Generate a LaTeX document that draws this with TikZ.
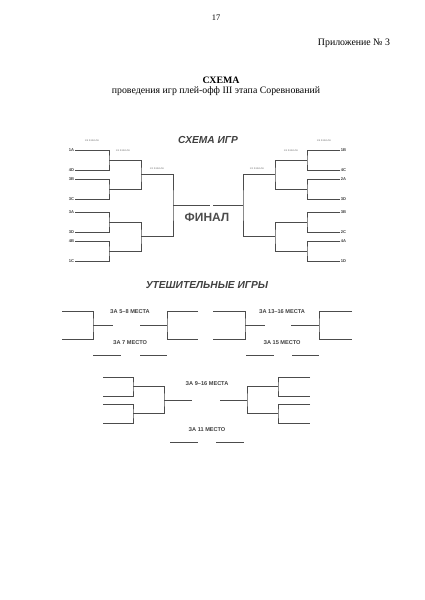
\documentclass[tikz,border=0pt]{standalone}
\usepackage{fontspec}
\setmainfont{Liberation Serif}
\setsansfont{Liberation Sans}
\tikzset{
  bline/.style={draw=black!70,line width=0.8pt},
  team/.style={font=\sffamily\bfseries\fontsize{5.8}{6}\selectfont,text=black!75,inner sep=1pt},
  stagelbl/.style={font=\sffamily\fontsize{3.4}{4}\selectfont,text=black!55,inner sep=0pt},
  head/.style={font=\sffamily\bfseries\itshape\fontsize{14.5}{16}\selectfont,text=black!75,inner sep=0pt},
  place/.style={font=\sffamily\bfseries\fontsize{8}{9}\selectfont,text=black!75,inner sep=0pt},
  doc/.style={font=\fontsize{14}{16}\selectfont,inner sep=0pt}
}

\begin{document}
\begin{tikzpicture}[x=0.5mm,y=-0.5mm]
\useasboundingbox (0,0) rectangle (424,600);
% header
\node[doc,font=\fontsize{12}{14}\selectfont] (pg) at (216,18) {17};
\node[doc] (app) at (354,43) {Приложение № 3};
\node[doc,font=\fontsize{14}{16}\selectfont\bfseries] (ttl) at (221,80.5) {СХЕМА};
\node[doc] (sub) at (216,91.5) {проведения игр плей-офф III этапа Соревнований};

% main bracket
\node[head] (games) at (208,140) {СХЕМА ИГР};
\node[stagelbl] (l8) at (92,141) {1/8 ФИНАЛА};
\node[stagelbl] (l4) at (123,151) {1/4 ФИНАЛА};
\node[stagelbl] (l2) at (157,169) {1/2 ФИНАЛА};
\node[stagelbl] (r8) at (324,141) {1/8 ФИНАЛА};
\node[stagelbl] (r4) at (291,151) {1/4 ФИНАЛА};
\node[stagelbl] (r2) at (257,169) {1/2 ФИНАЛА};
\foreach \t/\y [count=\i] in {1A/150,4D/170,3B/179,3C/199,3A/212,3D/232,4B/241,1C/261}
  \node[team,anchor=east] (L\i) at (75,\y) {\t};
\foreach \t/\y [count=\i] in {1B/150,4C/170,2A/179,3D/199,3B/212,2C/232,4A/241,1D/261}
  \node[team,anchor=west] (R\i) at (340,\y) {\t};
\coordinate (mL1) at (109,160);   \coordinate (mR1) at (307,160);
\coordinate (mL2) at (109,189);   \coordinate (mR2) at (307,189);
\coordinate (mL3) at (109,222);   \coordinate (mR3) at (307,222);
\coordinate (mL4) at (109,251);   \coordinate (mR4) at (307,251);
\coordinate (qL1) at (141,174.5); \coordinate (qR1) at (275,174.5);
\coordinate (qL2) at (141,236.5); \coordinate (qR2) at (275,236.5);
\coordinate (sL) at (173,205.5);  \coordinate (sR) at (243,205.5);
\coordinate (fL) at (210,205.5);  \coordinate (fR) at (213,205.5);
\foreach \s in {L,R}{
  \draw[bline] (\s1) -| (m\s1) |- (\s2);
  \draw[bline] (\s3) -| (m\s2) |- (\s4);
  \draw[bline] (\s5) -| (m\s3) |- (\s6);
  \draw[bline] (\s7) -| (m\s4) |- (\s8);
  \draw[bline] (m\s1) -| (q\s1) |- (m\s2);
  \draw[bline] (m\s3) -| (q\s2) |- (m\s4);
  \draw[bline] (q\s1) -| (s\s) |- (q\s2);
  \draw[bline] (s\s) -- (f\s);
}
\node[font=\sffamily\bfseries\fontsize{17}{18}\selectfont,text=black!70,inner sep=0pt] (fin) at (207,217) {ФИНАЛ};

% consolation games
\node[head] (cons) at (207,285) {УТЕШИТЕЛЬНЫЕ ИГРЫ};
% 5-8
\coordinate (a1) at (62,311);  \coordinate (a2) at (62,339);
\coordinate (a) at (93,325);   \coordinate (a3) at (113,325);
\coordinate (b3) at (140,325); \coordinate (b) at (167,325);
\coordinate (b1) at (198,311); \coordinate (b2) at (198,339);
\draw[bline] (a1) -| (a) |- (a2);
\draw[bline] (a) -- (a3);
\draw[bline] (b1) -| (b) |- (b2);
\draw[bline] (b3) -- (b);
\node[place] (p58) at (130,312) {ЗА 5--8 МЕСТА};
\node[place] (p7) at (130,343) {ЗА 7 МЕСТО};
\coordinate (c1) at (93,355);  \coordinate (c2) at (121,355);
\coordinate (c3) at (140,355); \coordinate (c4) at (167,355);
\draw[bline] (c1) -- (c2) (c3) -- (c4);
% 13-16
\coordinate (d1) at (213,311); \coordinate (d2) at (213,339);
\coordinate (d) at (245,325);  \coordinate (d3) at (265,325);
\coordinate (e3) at (291,325); \coordinate (e) at (319,325);
\coordinate (e1) at (352,311); \coordinate (e2) at (352,339);
\draw[bline] (d1) -| (d) |- (d2);
\draw[bline] (d) -- (d3);
\draw[bline] (e1) -| (e) |- (e2);
\draw[bline] (e3) -- (e);
\node[place] (p1316) at (282,312) {ЗА 13--16 МЕСТА};
\node[place] (p15) at (282,343) {ЗА 15 МЕСТО};
\coordinate (g1) at (246,355); \coordinate (g2) at (274,355);
\coordinate (g3) at (292,355); \coordinate (g4) at (319,355);
\draw[bline] (g1) -- (g2) (g3) -- (g4);
% 9-16
\coordinate (h1) at (103,377); \coordinate (h2) at (103,396);
\coordinate (h3) at (103,404); \coordinate (h4) at (103,423);
\coordinate (hA) at (133,386.5); \coordinate (hB) at (133,413.5);
\coordinate (hC) at (164,400); \coordinate (hD) at (192,400);
\draw[bline] (h1) -| (hA) |- (h2);
\draw[bline] (h3) -| (hB) |- (h4);
\draw[bline] (hA) -| (hC) |- (hB);
\draw[bline] (hC) -- (hD);
\coordinate (k1) at (310,377); \coordinate (k2) at (310,396);
\coordinate (k3) at (310,404); \coordinate (k4) at (310,423);
\coordinate (kA) at (278,386.5); \coordinate (kB) at (278,413.5);
\coordinate (kC) at (247,400); \coordinate (kD) at (220,400);
\draw[bline] (k1) -| (kA) |- (k2);
\draw[bline] (k3) -| (kB) |- (k4);
\draw[bline] (kA) -| (kC) |- (kB);
\draw[bline] (kC) -- (kD);
\node[place] (p916) at (207,384) {ЗА 9--16 МЕСТА};
\node[place] (p11) at (207,430) {ЗА 11 МЕСТО};
\coordinate (n1) at (170,442); \coordinate (n2) at (198,442);
\coordinate (n3) at (216,442); \coordinate (n4) at (244,442);
\draw[bline] (n1) -- (n2) (n3) -- (n4);
\end{tikzpicture}
\end{document}
